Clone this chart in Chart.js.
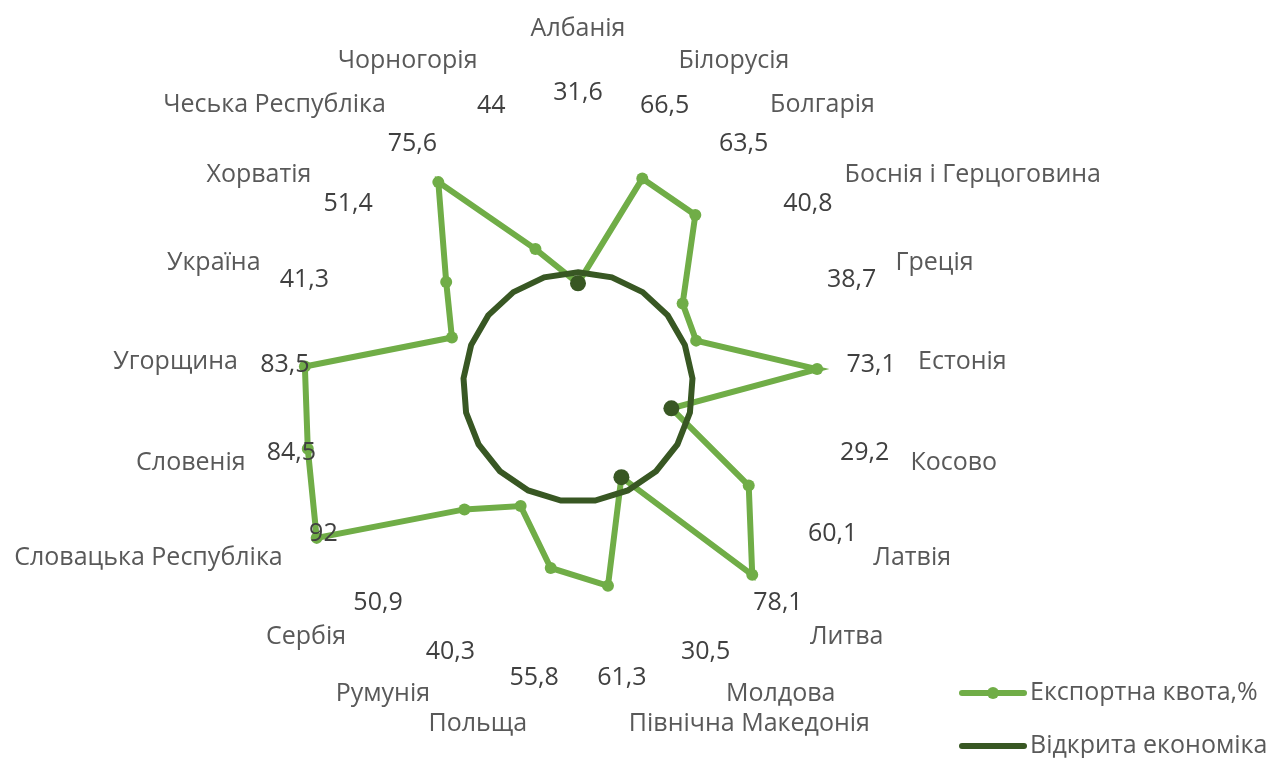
<!DOCTYPE html>
<html>
<head>
<meta charset="utf-8">
<script src="https://cdn.jsdelivr.net/npm/chart.js@4.4.0/dist/chart.umd.min.js"></script>
<style>
  html, body { margin: 0; padding: 0; background: #fff; }
  #wrap { width: 1277px; height: 758px; position: relative; }
</style>
</head>
<body>
<div id="wrap"><canvas id="radar"></canvas></div>
<script>
// categories (clockwise from top)
const countries = [
    "Албанія", "Білорусія", "Болгарія", "Боснія і Герцоговина", "Греція",
    "Естонія", "Косово", "Латвія", "Литва", "Молдова", "Північна Македонія",
    "Польща", "Румунія", "Сербія", "Словацька Республіка", "Словенія",
    "Угорщина", "Україна", "Хорватія", "Чеська Республіка", "Чорногорія"
];

// export quota, %
const exportQuota = [
    31.6, 66.5, 63.5, 40.8, 38.7, 73.1, 29.2, 60.1, 78.1, 30.5, 61.3,
    55.8, 40.3, 50.9, 92, 84.5, 83.5, 41.3, 51.4, 75.6, 44
];

// open economy threshold
const openEconomy = countries.map(() => 35);

const seriesNames = ["Експортна квота,%", "Відкрита економіка"];

const GREEN = "#70ad47";
const DARK = "#385723";
const FONT = "'Open Sans', Lato, sans-serif";

// =========================
// LABELS + LEGEND
// =========================
const labelsPlugin = {
    id: "radarLabels",
    afterDraw(chart) {
        const ctx = chart.ctx;
        const scale = chart.scales.r;
        const n = countries.length;

        ctx.save();
        ctx.font = "25px " + FONT;
        ctx.textBaseline = "middle";

        for (let i = 0; i < n; i++) {
            const deg = i * 360 / n;

            // category names
            const p = scale.getPointPosition(i, 341);
            let y = p.y;
            if (deg < 3) { ctx.textAlign = "center"; y -= 17; }
            else if (Math.abs(deg - 180) < 3) { ctx.textAlign = "center"; y += 17; }
            else if (deg < 180) ctx.textAlign = "left";
            else ctx.textAlign = "right";
            ctx.fillStyle = "#595959";
            ctx.fillText(countries[i], p.x, y);

            // values
            const v = scale.getPointPosition(i, 294);
            ctx.textAlign = "center";
            ctx.fillStyle = "#404040";
            ctx.fillText(String(exportQuota[i]).replace(".", ","), v.x, v.y);
        }

        // legend
        const items = [
            { text: seriesNames[0], color: GREEN, marker: true, y: 693 },
            { text: seriesNames[1], color: DARK, marker: false, y: 746 }
        ];
        ctx.textAlign = "left";
        ctx.lineCap = "round";
        for (const it of items) {
            ctx.strokeStyle = it.color;
            ctx.lineWidth = 6;
            ctx.beginPath();
            ctx.moveTo(962, it.y);
            ctx.lineTo(1024, it.y);
            ctx.stroke();
            if (it.marker) {
                ctx.fillStyle = it.color;
                ctx.beginPath();
                ctx.arc(993, it.y, 6, 0, Math.PI * 2);
                ctx.fill();
            }
            ctx.fillStyle = "#595959";
            ctx.fillText(it.text, 1030, it.y);
        }
        ctx.restore();
    }
};

// =========================
// CHART
// =========================
new Chart(document.getElementById("radar"), {
    type: "radar",
    data: {
        labels: countries,
        datasets: [
            {
                label: seriesNames[1],
                data: openEconomy,
                borderColor: DARK,
                borderWidth: 6,
                pointRadius: 0,
                fill: false,
                order: 0
            },
            {
                label: seriesNames[0],
                data: exportQuota,
                borderColor: GREEN,
                borderWidth: 6,
                pointRadius: exportQuota.map((v, i) => v < openEconomy[i] ? 8 : 6),
                pointBackgroundColor: exportQuota.map((v, i) => v < openEconomy[i] ? DARK : GREEN),
                pointBorderWidth: 0,
                fill: false,
                order: 1
            }
        ]
    },
    options: {
        responsive: true,
        maintainAspectRatio: false,
        animation: false,
        layout: { padding: { left: 250, right: 371, top: 59, bottom: 43 } },
        plugins: { legend: { display: false }, tooltip: { enabled: false } },
        elements: { line: { tension: 0 } },
        scales: {
            r: {
                min: 0,
                max: 100,
                ticks: { display: false },
                grid: { display: false },
                angleLines: { display: false },
                pointLabels: { display: false }
            }
        }
    },
    plugins: [labelsPlugin]
});
</script>
</body>
</html>
